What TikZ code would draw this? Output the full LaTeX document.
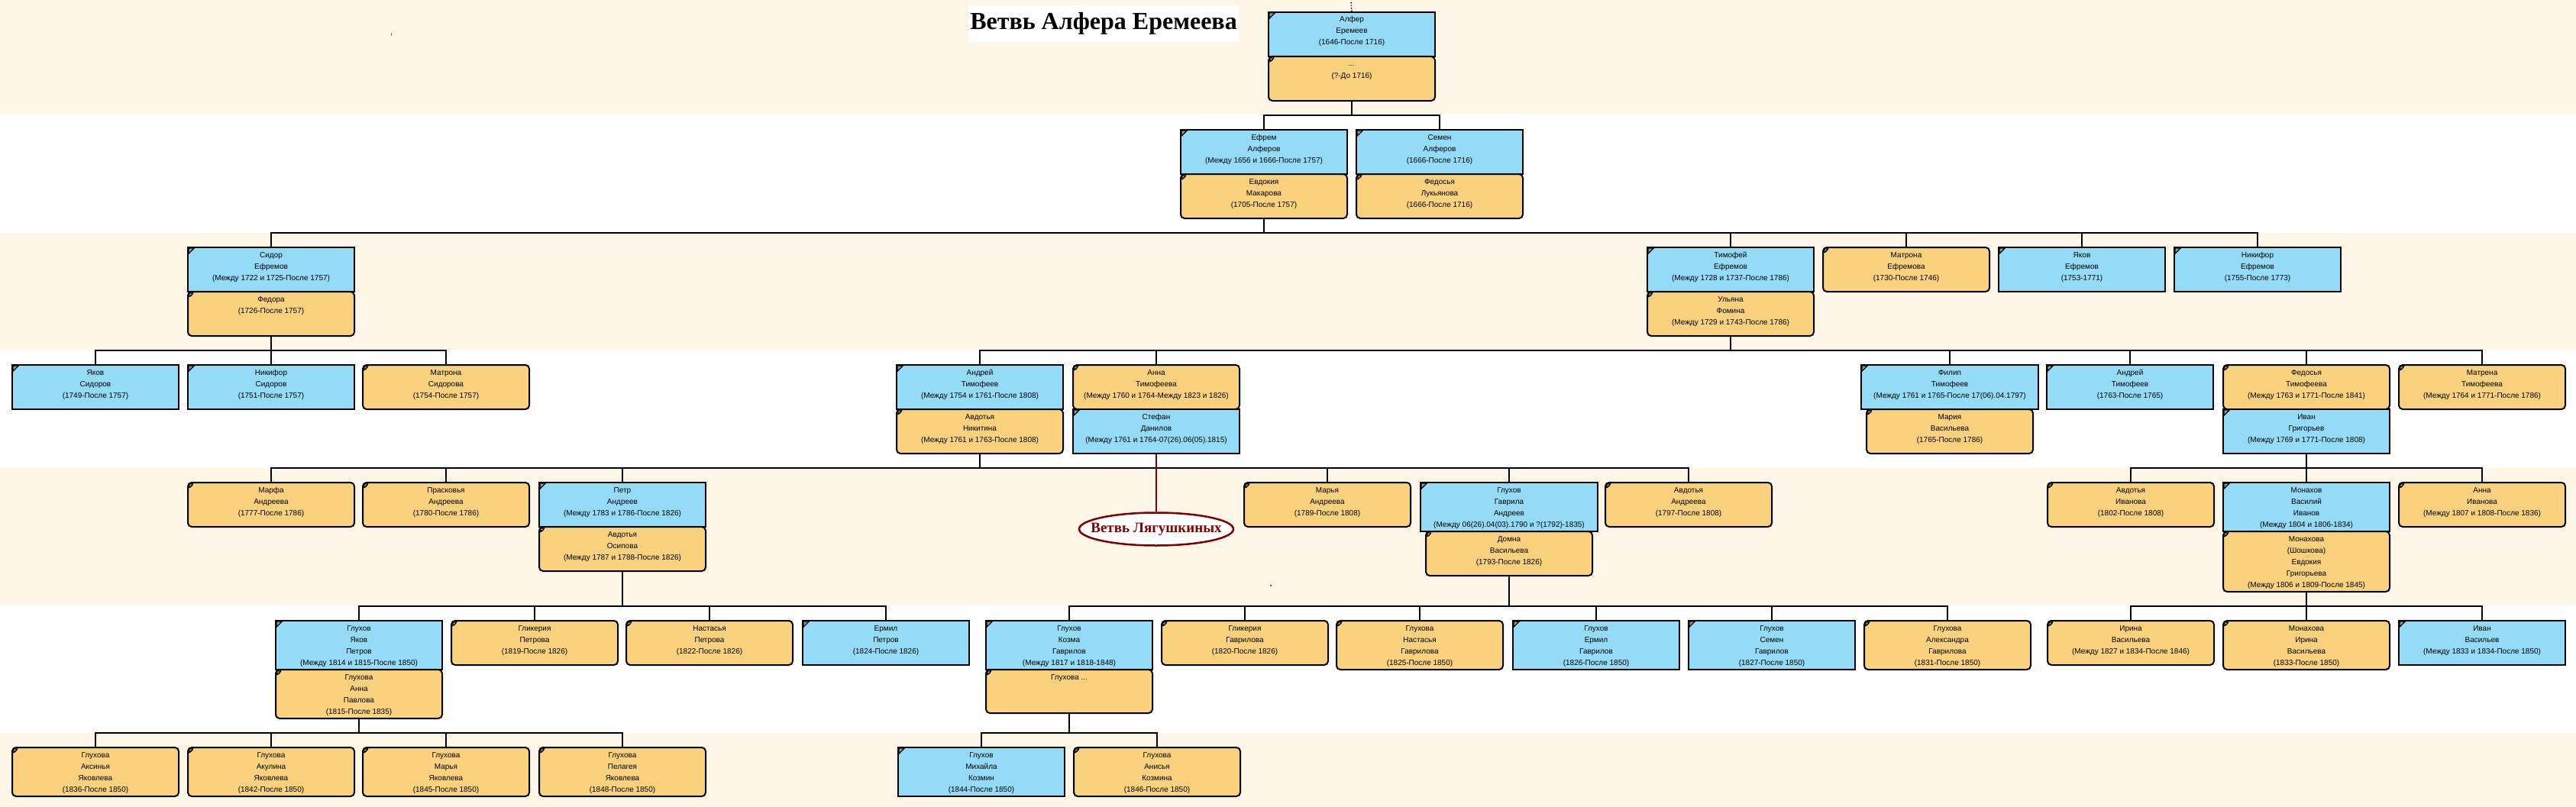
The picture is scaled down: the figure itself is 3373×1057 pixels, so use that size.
\documentclass[tikz,border=0pt]{standalone}
\usepackage{fontspec}
\setmainfont{Liberation Sans}
\newfontfamily\serifbold{Liberation Serif}
\usetikzlibrary{shapes.geometric}

\definecolor{band}{RGB}{254,246,230}
\definecolor{mblue}{RGB}{148,219,248}
\definecolor{forange}{RGB}{250,210,126}
\definecolor{lyagred}{RGB}{128,0,0}

\tikzset{
  person/.style={draw=black, line width=2pt, inner sep=0pt, anchor=north west,
    font=\fontsize{10}{15}\selectfont,
    path picture={
      \fill[black] (path picture bounding box.north west) -- ++(10pt,0pt) -- ++(-10pt,-10pt) -- cycle;
      \fill[black!40] ([shift={(1.5pt,-1.5pt)}]path picture bounding box.north west) -- ++(5pt,0pt) -- ++(-5pt,-5pt) -- cycle;}},
  male/.style={person, fill=mblue},
  female/.style={person, fill=forange, rounded corners=5pt},
  link/.style={line width=2pt},
  titlebox/.style={fill=white, inner sep=0pt, minimum width=354pt, minimum height=48pt,
    font=\serifbold\bfseries\fontsize{32}{32}\selectfont},
  branch/.style={ellipse, draw=lyagred, line width=2.5pt, fill=white, inner sep=0pt,
    minimum width=202pt, minimum height=43pt, text=lyagred,
    font=\serifbold\bfseries\fontsize{19}{19}\selectfont}
}

% box text: [height]{width}{lines}
\newcommand\card[3][58]{\parbox[c][#1pt][t]{#2pt}{\centering\rule{0pt}{13pt}#3}}
% parent -> bus at y -> children
\newcommand\kids[3]{%
  \draw[link] (#1.south) -- (#1.south |- 0,#2) coordinate (bus);
  \foreach \c in {#3} \draw[link] (\c.north) |- (bus);
}

\begin{document}
\begin{tikzpicture}[x=1pt,y=-1pt]
\useasboundingbox (0,0) rectangle (3373,1057);

% bands
\fill[band] (0,0) rectangle (3373,150);
\fill[band] (0,305) rectangle (3373,458);
\fill[band] (0,613) rectangle (3373,793);
\fill[band] (0,960) rectangle (3373,1057);

\node[titlebox] (title) at (1445,31) {Ветвь Алфера Еремеева};
\fill[black!50] (512,43) rectangle (513,47);
\fill (1664,767) circle (1pt);

% row 1
\node[male] (alfer) at (1660,15) {\card{218}{Алфер\\Еремеев\\(1646-После 1716)}};
\node[female] (alferW) at (1660,73) {\card{218}{...\\(?-До 1716)}};
\coordinate (up) at (1769,1);
\draw[line width=1.5pt, dotted] (alfer.north) -- (up);

% row 2
\node[male] (efrem) at (1545,169) {\card{218}{Ефрем\\Алферов\\(Между 1656 и 1666-После 1757)}};
\node[female] (efremW) at (1545,227) {\card{218}{Евдокия\\Макарова\\(1705-После 1757)}};
\node[male] (semen) at (1775,169) {\card{218}{Семен\\Алферов\\(1666-После 1716)}};
\node[female] (semenW) at (1775,227) {\card{218}{Федосья\\Лукьянова\\(1666-После 1716)}};

% row 3
\node[male] (sidor) at (245,323) {\card{218}{Сидор\\Ефремов\\(Между 1722 и 1725-После 1757)}};
\node[female] (sidorW) at (245,381) {\card{218}{Федора\\(1726-После 1757)}};
\node[male] (timofei) at (2156,323) {\card{218}{Тимофей\\Ефремов\\(Между 1728 и 1737-После 1786)}};
\node[female] (timofeiW) at (2156,381) {\card{218}{Ульяна\\Фомина\\(Между 1729 и 1743-После 1786)}};
\node[female] (matronaE) at (2386,323) {\card{218}{Матрона\\Ефремова\\(1730-После 1746)}};
\node[male] (yakovE) at (2616,323) {\card{218}{Яков\\Ефремов\\(1753-1771)}};
\node[male] (nikiforE) at (2846,323) {\card{218}{Никифор\\Ефремов\\(1755-После 1773)}};

% row 4
\node[male] (yakovS) at (15,477) {\card{218}{Яков\\Сидоров\\(1749-После 1757)}};
\node[male] (nikiforS) at (245,477) {\card{218}{Никифор\\Сидоров\\(1751-После 1757)}};
\node[female] (matronaS) at (474,477) {\card{218}{Матрона\\Сидорова\\(1754-После 1757)}};
\node[male] (andrei) at (1173,477) {\card{218}{Андрей\\Тимофеев\\(Между 1754 и 1761-После 1808)}};
\node[female] (andreiW) at (1173,535) {\card{218}{Авдотья\\Никитина\\(Между 1761 и 1763-После 1808)}};
\node[female] (anna) at (1404,477) {\card{218}{Анна\\Тимофеева\\(Между 1760 и 1764-Между 1823 и 1826)}};
\node[male] (annaH) at (1404,535) {\card{218}{Стефан\\Данилов\\(Между 1761 и 1764-07(26).06(05).1815)}};
\node[male] (filip) at (2436,477) {\card{232}{Филип\\Тимофеев\\(Между 1761 и 1765-После 17(06).04.1797)}};
\node[female] (filipW) at (2443,535) {\card{218}{Мария\\Васильева\\(1765-После 1786)}};
\node[male] (andreiT) at (2679,477) {\card{218}{Андрей\\Тимофеев\\(1763-После 1765)}};
\node[female] (fedosya) at (2910,477) {\card{218}{Федосья\\Тимофеева\\(Между 1763 и 1771-После 1841)}};
\node[male] (fedosyaH) at (2910,535) {\card{218}{Иван\\Григорьев\\(Между 1769 и 1771-После 1808)}};
\node[female] (matrena) at (3140,477) {\card{218}{Матрена\\Тимофеева\\(Между 1764 и 1771-После 1786)}};

% row 5
\node[female] (marfa) at (245,631) {\card{218}{Марфа\\Андреева\\(1777-После 1786)}};
\node[female] (praskovya) at (474,631) {\card{218}{Прасковья\\Андреева\\(1780-После 1786)}};
\node[male] (petr) at (705,631) {\card{218}{Петр\\Андреев\\(Между 1783 и 1786-После 1826)}};
\node[female] (petrW) at (705,689) {\card{218}{Авдотья\\Осипова\\(Между 1787 и 1788-После 1826)}};
\node[branch] (lyag) at (1514,693) {\makebox[0pt]{Ветвь Лягушкиных}};
\node[female] (marya) at (1628,631) {\card{218}{Марья\\Андреева\\(1789-После 1808)}};
\node[male] (gavrila) at (1859,631) {\card[64]{232}{Глухов\\Гаврила\\Андреев\\(Между 06(26).04(03).1790 и ?(1792)-1835)}};
\node[female] (gavrilaW) at (1866,695) {\card{218}{Домна\\Васильева\\(1793-После 1826)}};
\node[female] (avdotyaA) at (2101,631) {\card{218}{Авдотья\\Андреева\\(1797-После 1808)}};
\node[female] (avdotyaI) at (2680,631) {\card{218}{Авдотья\\Иванова\\(1802-После 1808)}};
\node[male] (monakhov) at (2910,631) {\card[64]{218}{Монахов\\Василий\\Иванов\\(Между 1804 и 1806-1834)}};
\node[female] (monakhovW) at (2910,695) {\card[79]{218}{Монахова\\(Шошкова)\\Евдокия\\Григорьева\\(Между 1806 и 1809-После 1845)}};
\node[female] (annaI) at (3140,631) {\card{218}{Анна\\Иванова\\(Между 1807 и 1808-После 1836)}};

% row 6
\node[male] (yakovP) at (360,812) {\card[64]{218}{Глухов\\Яков\\Петров\\(Между 1814 и 1815-После 1850)}};
\node[female] (yakovPW) at (360,876) {\card[64]{218}{Глухова\\Анна\\Павлова\\(1815-После 1835)}};
\node[female] (glikeriaP) at (590,812) {\card{218}{Гликерия\\Петрова\\(1819-После 1826)}};
\node[female] (nastasyaP) at (819,812) {\card{218}{Настасья\\Петрова\\(1822-После 1826)}};
\node[male] (ermilP) at (1050,812) {\card{218}{Ермил\\Петров\\(1824-После 1826)}};
\node[male] (kozma) at (1290,812) {\card[64]{218}{Глухов\\Козма\\Гаврилов\\(Между 1817 и 1818-1848)}};
\node[female] (kozmaW) at (1290,876) {\card[57]{218}{Глухова ...}};
\node[female] (glikeriaG) at (1520,812) {\card{218}{Гликерия\\Гаврилова\\(1820-После 1826)}};
\node[female] (nastasyaG) at (1749,812) {\card[64]{218}{Глухова\\Настасья\\Гаврилова\\(1825-После 1850)}};
\node[male] (ermilG) at (1980,812) {\card[64]{218}{Глухов\\Ермил\\Гаврилов\\(1826-После 1850)}};
\node[male] (semenG) at (2210,812) {\card[64]{218}{Глухов\\Семен\\Гаврилов\\(1827-После 1850)}};
\node[female] (aleksandra) at (2440,812) {\card[64]{218}{Глухова\\Александра\\Гаврилова\\(1831-После 1850)}};
\node[female] (irinaV) at (2680,812) {\card{218}{Ирина\\Васильева\\(Между 1827 и 1834-После 1846)}};
\node[female] (irinaM) at (2910,812) {\card[64]{218}{Монахова\\Ирина\\Васильева\\(1833-После 1850)}};
\node[male] (ivanV) at (3140,812) {\card{218}{Иван\\Васильев\\(Между 1833 и 1834-После 1850)}};

% row 7
\node[female] (aksinya) at (15,978) {\card[64]{218}{Глухова\\Аксинья\\Яковлева\\(1836-После 1850)}};
\node[female] (akulina) at (245,978) {\card[64]{218}{Глухова\\Акулина\\Яковлева\\(1842-После 1850)}};
\node[female] (maryaY) at (474,978) {\card[64]{218}{Глухова\\Марья\\Яковлева\\(1845-После 1850)}};
\node[female] (pelageya) at (705,978) {\card[64]{218}{Глухова\\Пелагея\\Яковлева\\(1848-После 1850)}};
\node[male] (mikhaila) at (1175,978) {\card[64]{218}{Глухов\\Михайла\\Козмин\\(1844-После 1850)}};
\node[female] (anisya) at (1405,978) {\card[64]{218}{Глухова\\Анисья\\Козмина\\(1846-После 1850)}};

% links
\kids{alferW}{151}{efrem,semen}
\kids{efremW}{305}{sidor,timofei,matronaE,yakovE,nikiforE}
\kids{sidorW}{459}{yakovS,nikiforS,matronaS}
\kids{timofeiW}{459}{andrei,anna,filip,andreiT,fedosya,matrena}
\kids{andreiW}{613}{marfa,praskovya,petr,marya,gavrila,avdotyaA}
\kids{fedosyaH}{613}{avdotyaI,monakhov,annaI}
\kids{petrW}{794}{yakovP,glikeriaP,nastasyaP,ermilP}
\kids{gavrilaW}{794}{kozma,glikeriaG,nastasyaG,ermilG,semenG,aleksandra}
\kids{monakhovW}{794}{irinaV,irinaM,ivanV}
\kids{yakovPW}{960}{aksinya,akulina,maryaY,pelageya}
\kids{kozmaW}{960}{mikhaila,anisya}
\draw[lyagred, line width=2pt] (annaH.south) -- (lyag.north);
\end{tikzpicture}
\end{document}
